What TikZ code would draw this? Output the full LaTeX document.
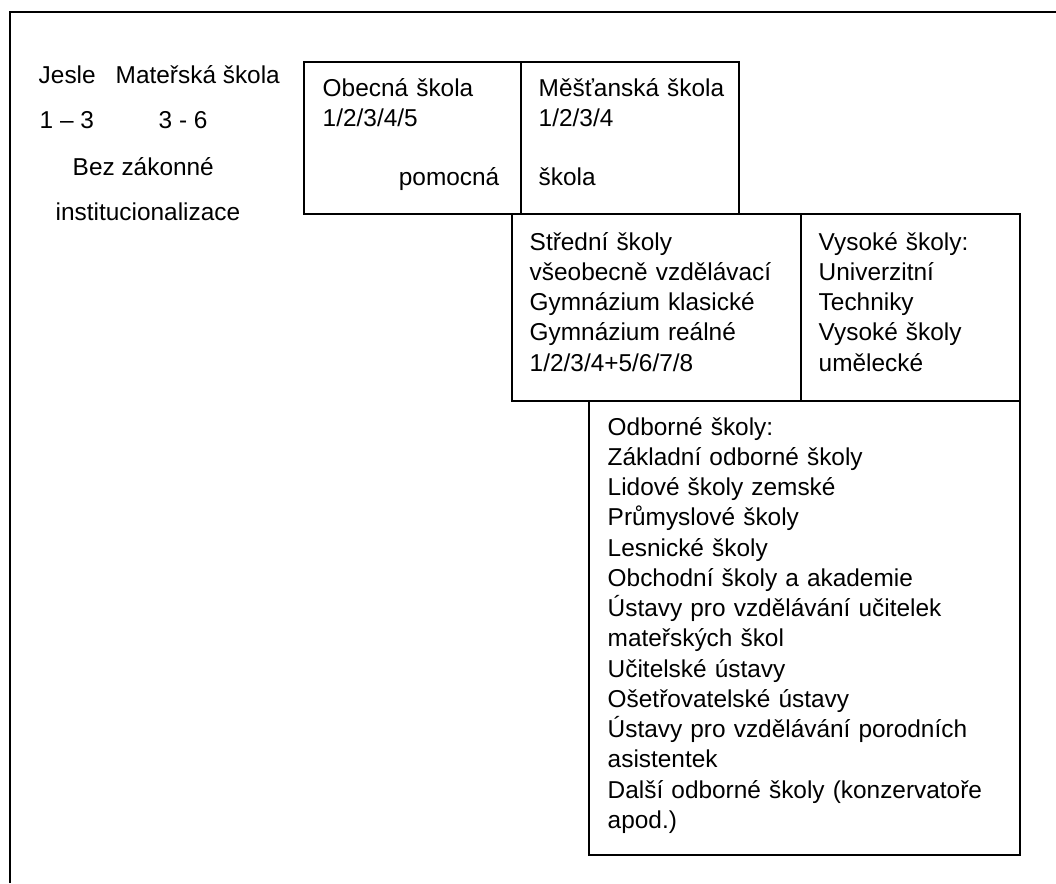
\documentclass[tikz,border=0pt]{standalone}
\usepackage{fontspec}
\setmainfont{Liberation Sans}
\usetikzlibrary{positioning}

\begin{document}
\begin{tikzpicture}
		[x=0.75pt, y=-0.75pt, line width=1.1pt,
		schoolbox/.style = {draw, rectangle, inner sep=0pt, outer sep=0pt, anchor=north west},
		lbl/.style = {inner sep=0pt, anchor=base west, font=\fontsize{18.3}{22.7}\selectfont},
		multi/.style = {lbl, align=left, text width=#1}]
	\useasboundingbox (0,0) rectangle (1056,883);
	% frame
	\coordinate (frametop) at (1056,12);
	\coordinate (framecorner) at (10,12);
	\coordinate (framebottom) at (10,883);
	\draw (framebottom) -- (framecorner) -- (frametop);
	% left column
	\node[lbl] (jesle) at (38,83) {Jesle};
	\node[lbl] (materska) at (115,83) {Mateřská škola};
	\node[lbl] (vek1) at (39,128) {1 – 3};
	\node[lbl] (vek2) at (158,128) {3 - 6};
	\node[lbl] (bez) at (72,175) {Bez zákonné};
	\node[lbl] (inst) at (55,220) {institucionalizace};
	% boxes
	\node[schoolbox, minimum width=162.75pt, minimum height=114pt] (obecna) at (304,62) {};
	\node[schoolbox, minimum width=163.5pt, minimum height=114pt] (mestanska) at (obecna.north east) {};
	\node[schoolbox, minimum width=216.75pt, minimum height=140.25pt] (stredni) at (512,214) {};
	\node[schoolbox, minimum width=164.25pt, minimum height=140.25pt] (vysoke) at (stredni.north east) {};
	\node[schoolbox, minimum width=323.25pt, minimum height=340.5pt] (odborne) at (589,401) {};
	% texts
	\node[multi=5cm] (obecnatxt) at (322,96) {Obecná škola\\1/2/3/4/5};
	\node[lbl, anchor=base east] (pomocna) at (500,185) {pomocná};
	\node[multi=5cm] (mestanskatxt) at (538,96) {Měšťanská škola\\1/2/3/4};
	\node[lbl] (skola) at (538,185) {škola};
	\node[multi=7cm] (strednitxt) at (529,250) {Střední školy\\všeobecně vzdělávací\\Gymnázium klasické\\Gymnázium reálné\\1/2/3/4+5/6/7/8};
	\node[multi=5cm] (vysoketxt) at (818,250) {Vysoké školy:\\Univerzitní\\Techniky\\Vysoké školy\\umělecké};
	\node[multi=11cm] (odbornetxt) at (607,435) {Odborné školy:\\Základní odborné školy\\Lidové školy zemské\\Průmyslové školy\\Lesnické školy\\Obchodní školy a akademie\\Ústavy pro vzdělávání učitelek\\mateřských škol\\Učitelské ústavy\\Ošetřovatelské ústavy\\Ústavy pro vzdělávání porodních\\asistentek\\Další odborné školy (konzervatoře\\apod.)};
\end{tikzpicture}
\end{document}
